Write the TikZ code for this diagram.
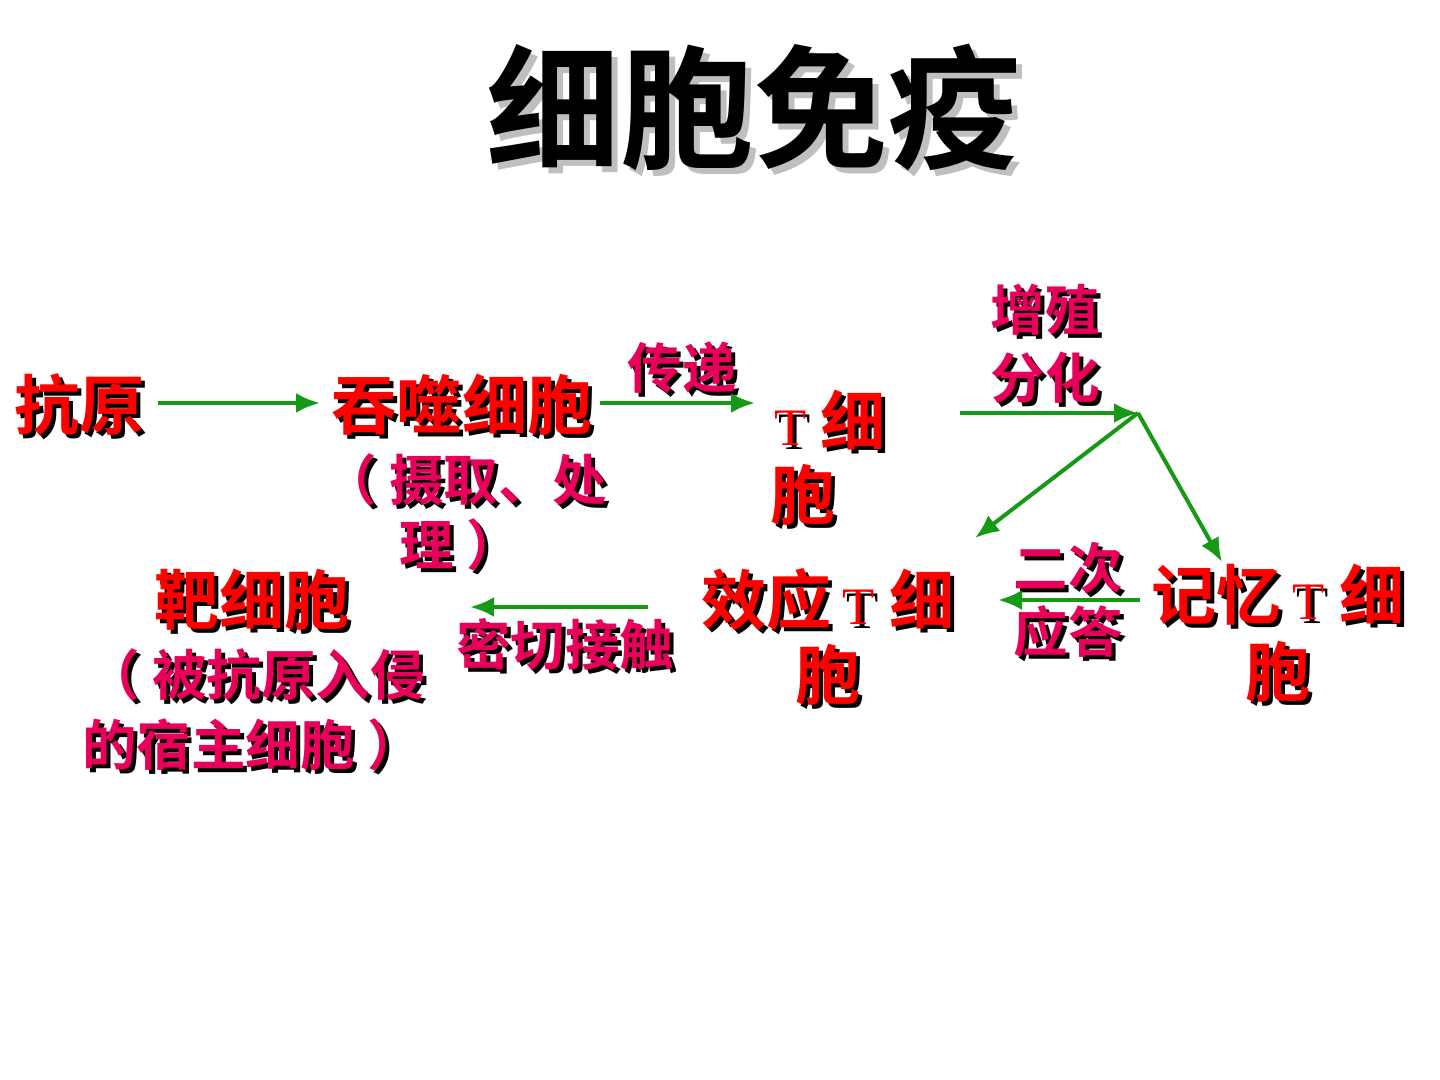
\documentclass[tikz,border=0pt]{standalone}
\usepackage{fontspec}
\setmainfont{Liberation Serif}
\newfontfamily\cjk{Noto Sans CJK SC}[BoldFont={Noto Sans CJK SC Bold}]
\usetikzlibrary{arrows.meta,positioning,calc}
\definecolor{lblred}{HTML}{FF0000}
\definecolor{subred}{HTML}{E8005A}
\definecolor{arrgreen}{HTML}{169A16}
\tikzset{
    flow/.style={-{Latex[length=2.4mm, width=2mm]}, line width=0.4mm, arrgreen},
    txt/.style={inner sep=0pt, font=\cjk\bfseries\fontsize{18.5}{22}\selectfont},
    subtxt/.style={txt, font=\cjk\bfseries\fontsize{15.5}{18}\selectfont},
}
% text with a black shadow
\newcommand{\shlabel}[5]{%
    \node[#1, black] at ($(#3)+(0.04,-0.04)$) {#5};
    \node[#1, #4] (#2) at (#3) {#5};}
\newcommand{\tcell}{{\rmfamily\mdseries\fontsize{15}{17}\selectfont T}}
\begin{document}
\begin{tikzpicture}
    \useasboundingbox (0,0) rectangle (14.4,-10.8);
    % title
    \node[txt, gray!50, font=\cjk\bfseries\fontsize{38}{42}\selectfont] at (7.6,-1.14) {细胞免疫};
    \node[txt, black, font=\cjk\bfseries\fontsize{38}{42}\selectfont] (title) at (7.54,-1.08) {细胞免疫};

    \shlabel{txt}{ky}{0.8,-4.05}{lblred}{抗原}
    \shlabel{txt}{ts}{4.62,-4.05}{lblred}{吞噬细胞}
    \shlabel{subtxt}{ts1}{4.65,-4.8}{subred}{（ 摄取、处}
    \shlabel{subtxt}{ts2}{4.6,-5.45}{subred}{理 ）}
    \shlabel{subtxt}{cd}{6.82,-3.68}{subred}{传递}
    \shlabel{txt}{tc}{8.3,-4.2}{lblred}{\tcell\ 细}
    \shlabel{txt}{tc2}{8.03,-4.95}{lblred}{胞}
    \shlabel{subtxt}{zz}{10.45,-3.1}{subred}{增殖}
    \shlabel{subtxt}{fh}{10.45,-3.78}{subred}{分化}
    \shlabel{txt}{xy}{8.28,-6.0}{lblred}{效应\,\tcell\ 细}
    \shlabel{txt}{xy2}{8.28,-6.75}{lblred}{胞}
    \shlabel{txt}{jy}{12.78,-5.95}{lblred}{记忆\,\tcell\ 细}
    \shlabel{txt}{jy2}{12.78,-6.72}{lblred}{胞}
    \shlabel{subtxt}{ec}{10.68,-5.68}{subred}{二次}
    \shlabel{subtxt}{yd}{10.68,-6.32}{subred}{应答}
    \shlabel{subtxt}{mq}{5.65,-6.45}{subred}{密切接触}
    \shlabel{txt}{bx}{2.52,-6.0}{lblred}{靶细胞}
    \shlabel{subtxt}{bx1}{2.55,-6.75}{subred}{（ 被抗原入侵}
    \shlabel{subtxt}{bx2}{2.52,-7.45}{subred}{的宿主细胞 ）}

    \coordinate (fork) at (11.38,-4.13);
    \draw[flow] (1.58,-4.03) -- (3.2,-4.03);
    \draw[flow] (6.0,-4.03) -- (7.55,-4.03);
    \draw[flow] (9.6,-4.13) -- (fork);
    \draw[flow] (fork) -- (9.75,-5.38);
    \draw[flow] (fork) -- (12.22,-5.62);
    \draw[flow] (11.4,-6.0) -- (9.98,-6.0);
    \draw[flow] (6.48,-6.07) -- (4.7,-6.07);
\end{tikzpicture}
\end{document}
